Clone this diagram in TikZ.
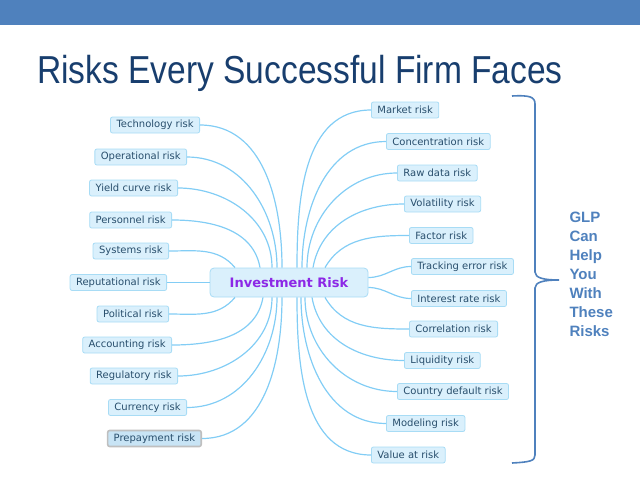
\documentclass[tikz,border=0pt]{standalone}
\usepackage{fontspec}
\setmainfont{DejaVu Sans}
\newfontfamily\titlefont{Liberation Sans}
\usetikzlibrary{positioning}
\definecolor{bandblue}{RGB}{79,129,189}
\definecolor{titleblue}{RGB}{24,62,110}
\definecolor{linkblue}{RGB}{130,205,245}
\definecolor{boxfill}{RGB}{218,240,252}
\definecolor{pickfill}{RGB}{200,228,245}
\definecolor{boxline}{RGB}{168,220,245}
\definecolor{branchtext}{RGB}{40,78,108}
\definecolor{hubtext}{RGB}{140,40,230}

\begin{document}
\begin{tikzpicture}[
    x=1pt, y=-1pt,
    branch/.style={rectangle, rounded corners=2pt, draw=boxline, fill=boxfill, line width=0.8pt, minimum height=16pt, inner xsep=6pt, inner ysep=2pt, text=branchtext, font=\fontsize{10}{12}\selectfont},
    picked/.style={branch, draw=gray!50, line width=1.6pt, fill=pickfill},
    hub/.style={rectangle, rounded corners=4pt, draw=boxline, fill=boxfill, line width=0.8pt, minimum width=158pt, minimum height=29pt, text=hubtext, font=\fontsize{13}{15}\selectfont\bfseries},
    conn/.style={draw=linkblue, line width=1.2pt}
]
    \useasboundingbox (0,0) rectangle (640,480);
    \fill[bandblue] (0,0) rectangle (640,25);

    % Title
    \node[anchor=base, text=titleblue, font=\titlefont\fontsize{39}{44}\selectfont] (title) at (300,83) {\scalebox{0.86}[1]{Risks Every Successful Firm Faces}};

    % Hub
    \node[hub] (ir) at (289,282.5) {Investment Risk};

    % Left branches
    \node[branch, anchor=east] (tech) at (200,125) {Technology risk};
    \node[branch, anchor=east] (oper) at (187,157) {Operational risk};
    \node[branch, anchor=east] (yield) at (178,188) {Yield curve risk};
    \node[branch, anchor=east] (pers) at (172,220) {Personnel risk};
    \node[branch, anchor=east] (sys) at (169,251) {Systems risk};
    \node[branch, anchor=east] (rep) at (167,282.5) {Reputational risk};
    \node[branch, anchor=east] (pol) at (169,314) {Political risk};
    \node[branch, anchor=east] (acc) at (172,345) {Accounting risk};
    \node[branch, anchor=east] (reg) at (178,376) {Regulatory risk};
    \node[branch, anchor=east] (curr) at (187,407.5) {Currency risk};
    \node[picked, anchor=east] (prep) at (202,438.5) {Prepayment risk};

    % Right branches
    \node[branch, anchor=west] (market) at (371,110) {Market risk};
    \node[branch, anchor=west] (conc) at (386,141.5) {Concentration risk};
    \node[branch, anchor=west] (raw) at (397,173) {Raw data risk};
    \node[branch, anchor=west] (vol) at (404,204) {Volatility risk};
    \node[branch, anchor=west] (fact) at (409,235.5) {Factor risk};
    \node[branch, anchor=west] (track) at (411,266.5) {Tracking error risk};
    \node[branch, anchor=west] (intr) at (411,298.5) {Interest rate risk};
    \node[branch, anchor=west] (corr) at (409,329) {Correlation risk};
    \node[branch, anchor=west] (liq) at (404,360.5) {Liquidity risk};
    \node[branch, anchor=west] (country) at (397,391.5) {Country default risk};
    \node[branch, anchor=west] (model) at (386,423.5) {Modeling risk};
    \node[branch, anchor=west] (var) at (371,455) {Value at risk};

    % Connections, left
    \draw[conn] (tech.east) to[out=0, in=90] ([xshift=-7pt]ir.north);
    \draw[conn] (oper.east) to[out=0, in=90] ([xshift=-12pt]ir.north);
    \draw[conn] (yield.east) to[out=0, in=90] ([xshift=-17pt]ir.north);
    \draw[conn] (pers.east) to[out=0, in=100] ([xshift=-29pt]ir.north);
    \draw[conn] (sys.east) to[out=0, in=130] ([xshift=-54pt]ir.north);
    \draw[conn] (rep.east) -- (ir.west);
    \draw[conn] (pol.east) to[out=0, in=-130] ([xshift=-54pt]ir.south);
    \draw[conn] (acc.east) to[out=0, in=-100] ([xshift=-26pt]ir.south);
    \draw[conn] (reg.east) to[out=0, in=-90] ([xshift=-17pt]ir.south);
    \draw[conn] (curr.east) to[out=0, in=-90] ([xshift=-12pt]ir.south);
    \draw[conn] (prep.east) to[out=0, in=-90] ([xshift=-7pt]ir.south);

    % Connections, right
    \draw[conn] (market.west) to[out=180, in=90] ([xshift=8pt]ir.north);
    \draw[conn] (conc.west) to[out=180, in=90] ([xshift=13pt]ir.north);
    \draw[conn] (raw.west) to[out=180, in=90] ([xshift=18pt]ir.north);
    \draw[conn] (vol.west) to[out=180, in=80] ([xshift=24pt]ir.north);
    \draw[conn] (fact.west) to[out=180, in=60] ([xshift=36pt]ir.north);
    \draw[conn] ([yshift=5pt]ir.east) to[out=0, in=180] (track.west);
    \draw[conn] ([yshift=-5pt]ir.east) to[out=0, in=180] (intr.west);
    \draw[conn] (corr.west) to[out=180, in=-60] ([xshift=36pt]ir.south);
    \draw[conn] (liq.west) to[out=180, in=-80] ([xshift=23pt]ir.south);
    \draw[conn] (country.west) to[out=180, in=-90] ([xshift=16pt]ir.south);
    \draw[conn] (model.west) to[out=180, in=-90] ([xshift=12pt]ir.south);
    \draw[conn] (var.west) to[out=180, in=-90] ([xshift=8pt]ir.south);

    % Brace and note
    \draw[bandblue, line width=1.6pt] (512,96) .. controls (530,95) and (535,97) .. (535,104)
        -- (535,272) .. controls (535,278) and (544,280) .. (559,280)
        .. controls (544,280) and (535,282) .. (535,288)
        -- (535,455) .. controls (535,461) and (530,462) .. (512,463);
    \node[anchor=west, align=left, text=bandblue, font=\titlefont\fontsize{15}{19}\selectfont\bfseries] (note) at (566,274) {GLP\\Can\\Help\\You\\With\\These\\Risks};
\end{tikzpicture}
\end{document}
